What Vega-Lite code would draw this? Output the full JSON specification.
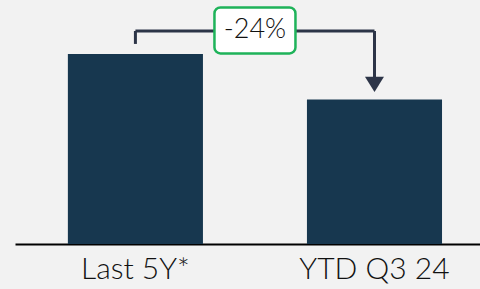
{
  "$schema": "https://vega.github.io/schema/vega-lite/v6.json",
  "width": 465,
  "height": 244,
  "autosize": "none",
  "padding": {"left": 15, "right": 0, "top": 0, "bottom": 45},
  "background": "#f2f2f2",
  "config": {"view": {"stroke": null}},
  "datasets": {
    "bars": [
      {"period": "Last 5Y*", "value": 100},
      {"period": "YTD Q3 24", "value": 76}
    ],
    "segments": [
      {"from": "Last 5Y*", "to": "Last 5Y*", "y1": 105.3, "y2": 112.1},
      {"from": "Last 5Y*", "to": "YTD Q3 24", "y1": 112.1, "y2": 112.1},
      {"from": "YTD Q3 24", "to": "YTD Q3 24", "y1": 112.1, "y2": 86.3}
    ],
    "arrow": [{"period": "YTD Q3 24", "y": 84.0}],
    "change": [{"period": "Last 5Y*", "y": 112.4, "label": "-24%"}]
  },
  "layer": [
    {
      "data": {"name": "bars"},
      "mark": {"type": "bar", "color": "#17374f"},
      "encoding": {
        "x": {
          "field": "period",
          "type": "nominal",
          "sort": null,
          "scale": {"paddingInner": 0.435, "paddingOuter": 0.19, "align": 0.582},
          "axis": {
            "title": null,
            "labelAngle": 0,
            "ticks": false,
            "domainColor": "#000000",
            "domainWidth": 2,
            "labelFontSize": 30,
            "labelFont": "Lato",
            "labelFontWeight": 300,
            "labelColor": "#111111",
            "labelPadding": 10
          }
        },
        "y": {
          "field": "value",
          "type": "quantitative",
          "scale": {"domain": [0, 128.42], "nice": false, "zero": true},
          "axis": null
        }
      }
    },
    {
      "data": {"name": "segments"},
      "mark": {"type": "rule", "color": "#2d3548", "strokeWidth": 3},
      "encoding": {
        "x": {"field": "from", "type": "nominal", "sort": null},
        "x2": {"field": "to"},
        "y": {"field": "y1", "type": "quantitative"},
        "y2": {"field": "y2"}
      }
    },
    {
      "data": {"name": "arrow"},
      "mark": {"type": "point", "shape": "M-1,-0.8L1,-0.8L0,0.8Z", "filled": true, "color": "#2d3548", "opacity": 1, "size": 361, "strokeWidth": 0},
      "encoding": {
        "x": {"field": "period", "type": "nominal", "sort": null},
        "y": {"field": "y", "type": "quantitative"}
      }
    },
    {
      "data": {"name": "change"},
      "mark": {
        "type": "point",
        "shape": "M-0.852,-0.568L0.852,-0.568A0.148,0.148 0 0 1 1,-0.42L1,0.42A0.148,0.148 0 0 1 0.852,0.568L-0.852,0.568A0.148,0.148 0 0 1 -1,0.42L-1,-0.42A0.148,0.148 0 0 1 -0.852,-0.568Z",
        "filled": false,
        "fill": "#ffffff",
        "fillOpacity": 1,
        "stroke": "#1fb35a",
        "strokeWidth": 2.5,
        "opacity": 1,
        "size": 6561
      },
      "encoding": {
        "x": {"field": "period", "type": "nominal", "sort": null, "bandPosition": 1.385},
        "y": {"field": "y", "type": "quantitative"}
      }
    },
    {
      "data": {"name": "change"},
      "mark": {"type": "text", "fontSize": 27, "font": "Lato", "fontWeight": 300, "color": "#111111", "baseline": "middle", "align": "center"},
      "encoding": {
        "x": {"field": "period", "type": "nominal", "sort": null, "bandPosition": 1.385},
        "y": {"field": "y", "type": "quantitative"},
        "text": {"field": "label"}
      }
    }
  ]
}
